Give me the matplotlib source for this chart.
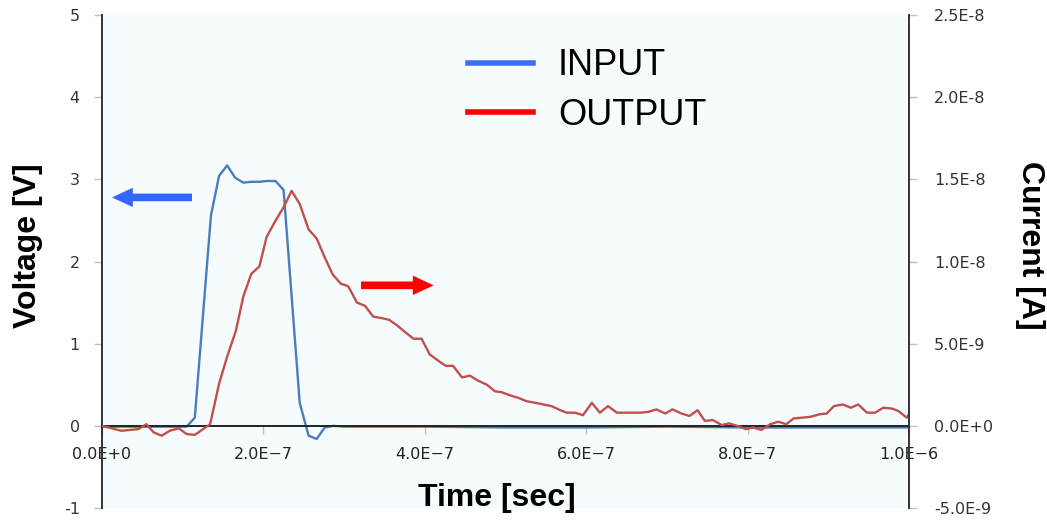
import numpy as np
import matplotlib.pyplot as plt
from matplotlib.lines import Line2D
from matplotlib.ticker import FuncFormatter, MultipleLocator

# INPUT voltage (V) vs time (ns)
t_in = [0, 20, 50, 80, 105, 115, 135, 145, 155, 165, 175, 185, 195, 204, 215,
        225, 245, 256, 266, 276, 287, 300, 400, 500, 600, 700, 800, 900, 1000]
v_in = [-0.01, -0.01, -0.01, -0.01, -0.01, 0.10, 2.56, 3.04, 3.17, 3.02, 2.96,
        2.97, 2.97, 2.98, 2.98, 2.87, 0.28, -0.12, -0.16, -0.02, 0.0, -0.01,
        -0.01, -0.02, -0.02, -0.01, -0.02, -0.02, -0.02]

# OUTPUT current (nA) vs time (ns)
t_out = [0, 24, 45, 55, 64, 74, 84, 95, 105, 115, 134, 145, 155, 166, 175, 185,
         195, 204, 214, 225, 235, 245, 256, 266, 276, 286, 296, 305, 316, 326,
         336, 347, 356, 366, 377, 386, 396, 406, 417, 426, 435, 446, 456, 466,
         477, 487, 495, 506, 516, 526, 537, 547, 557, 568, 576, 586, 596, 607,
         617, 627, 638, 667, 677, 687, 698, 707, 718, 728, 738, 747, 757, 768,
         777, 787, 798, 807, 817, 828, 838, 848, 857, 868, 878, 889, 898, 907,
         918, 928, 937, 948, 958, 968, 979, 987, 997, 1000]
i_out = [0.0, -0.3, -0.2, 0.1, -0.4, -0.6, -0.3, -0.15, -0.5, -0.55, 0.1, 2.55,
         4.2, 5.8, 7.85, 9.25, 9.7, 11.5, 12.4, 13.3, 14.3, 13.5, 11.95, 11.4,
         10.25, 9.2, 8.65, 8.5, 7.5, 7.3, 6.65, 6.55, 6.45, 6.1, 5.65, 5.3, 5.3,
         4.35, 3.95, 3.65, 3.65, 2.95, 3.05, 2.75, 2.5, 2.1, 2.05, 1.85, 1.7,
         1.5, 1.4, 1.3, 1.2, 0.95, 0.8, 0.8, 0.65, 1.4, 0.8, 1.2, 0.8, 0.8,
         0.85, 1.0, 0.75, 1.0, 0.75, 0.6, 0.95, 0.3, 0.35, 0.05, 0.15, 0.0,
         -0.2, -0.1, -0.25, 0.1, 0.25, 0.1, 0.45, 0.5, 0.55, 0.7, 0.75, 1.2,
         1.3, 1.1, 1.3, 0.8, 0.8, 1.1, 1.05, 0.9, 0.5, 0.7]

x_ticks = [0, 2e-7, 4e-7, 6e-7, 8e-7, 1e-6]


def sci(v, pos=None):
    m, e = f"{v:.1E}".split("E")
    return f"{m}E{int(e):+d}"


def sci_x(v, pos=None):
    return sci(v).replace("-", "\u2212")


fig = plt.figure(figsize=(10.47, 5.24), dpi=100)
ax = fig.add_axes([102 / 1047, 16 / 524, 807 / 1047, 493 / 524])
ax.set_facecolor('#f6fbfd')

ax.plot(np.array(t_in) * 1e-9, v_in, color='#4a7ebb', lw=1.7, zorder=2)
ax.set_xlim(0, 1e-6)
ax.set_ylim(-1, 5)

for s in ['top', 'right']:
    ax.spines[s].set_visible(False)
ax.spines['bottom'].set_position(('data', 0))
ax.spines['bottom'].set_color('#222222')
ax.spines['bottom'].set_linewidth(1.4)
ax.spines['bottom'].set_zorder(3)
ax.spines['left'].set_color('#333333')
ax.spines['left'].set_linewidth(1.4)

ax.set_xticks(x_ticks)
ax.xaxis.set_major_formatter(FuncFormatter(sci_x))
ax.yaxis.set_major_locator(MultipleLocator(1))
ax.yaxis.set_major_formatter(FuncFormatter(lambda v, p: f"{int(round(v))}"))
ax.tick_params(axis='x', direction='out', length=6, width=1, color='#c0c0c0',
               pad=9.5, labelsize=11.5, labelcolor='#222222')
ax.tick_params(axis='y', direction='out', length=6, width=1, color='#c0c0c0',
               pad=10, labelsize=11.5, labelcolor='#333333')

ax2 = ax.twinx()
ax2.plot(np.array(t_out) * 1e-9, np.array(i_out) * 1e-9, color='#c0504d', lw=1.7)
ax2.set_ylim(-5e-9, 2.5e-8)
ax2.yaxis.set_major_locator(MultipleLocator(5e-9))
ax2.yaxis.set_major_formatter(FuncFormatter(sci))
for s in ['top', 'left', 'bottom']:
    ax2.spines[s].set_visible(False)
ax2.spines['right'].set_color('#333333')
ax2.spines['right'].set_linewidth(1.4)
ax2.tick_params(axis='y', direction='out', length=6, width=1, color='#c0c0c0',
                pad=12, labelsize=11.5, labelcolor='#333333')

# direction arrows
arrow_style = "simple,head_length=1.5,head_width=1.4,tail_width=0.55"
ax.annotate("", xy=(0.124e-7, 2.78), xytext=(1.115e-7, 2.78),
            arrowprops=dict(arrowstyle=arrow_style, color='#3366ff', lw=0,
                            shrinkA=0, shrinkB=0, mutation_scale=10))
ax.annotate("", xy=(4.11e-7, 1.71), xytext=(3.21e-7, 1.71),
            arrowprops=dict(arrowstyle=arrow_style, color='#ff0000', lw=0,
                            shrinkA=0, shrinkB=0, mutation_scale=10))

handles = [Line2D([], [], color='#3d6efa', lw=4),
           Line2D([], [], color='#ff0000', lw=4)]
leg = ax.legend(handles, ['INPUT', 'OUTPUT'], loc='upper left',
                bbox_to_anchor=(0.413, 0.998), frameon=False,
                prop={'family': 'Liberation Sans', 'size': 26},
                handlelength=1.8, handletextpad=0.7, labelspacing=0.39)

lab = dict(family='Liberation Sans', weight='bold', size=23)
fig.text(28 / 1047, 1 - 246 / 524, 'Voltage [V]', rotation=90,
         ha='center', va='center', **lab)
fig.text(1030 / 1047, 1 - 245 / 524, 'Current [A]', rotation=270,
         ha='center', va='center', **lab)
fig.text(497 / 1047, 1 - 498 / 524, 'Time [sec]', ha='center', va='center', **lab)

fig.savefig('out.png', dpi=100)
